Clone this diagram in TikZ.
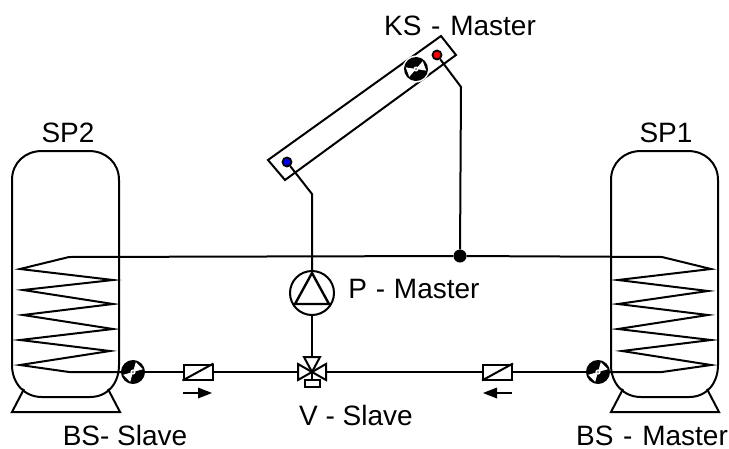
\documentclass[tikz,border=0pt]{standalone}
\usepackage{fontspec}
\setmainfont{Liberation Sans}
\tikzset{
  ln/.style={line width=2pt,black,line join=miter},
  lbl/.style={inner sep=0pt,anchor=base,font=\fontsize{28}{30}\selectfont,text=black,text depth=0pt},
  sensorbase/.style={circle,fill=white,minimum size=27pt,inner sep=0pt},
  dotmark/.style={circle,draw=black,line width=1.8pt,minimum size=9pt,inner sep=0pt},
  checkvalve/.style={draw=black,line width=2pt,fill=white,minimum width=29pt,minimum height=15pt,inner sep=0pt},
}
\newcommand{\fanblades}[2]{%
  \begin{scope}[shift={(#1)},rotate=#2]
    \fill[black] (0,0) circle (12);
    \fill[white] (0,0) -- (-9,-5) -- (-9,5) -- cycle;
    \fill[white] (0,0) -- (9,-5) -- (9,5) -- cycle;
    \fill[white] (0,0) circle (2.6);
    \fill[black] (0,0) circle (0.8);
  \end{scope}}
\begin{document}
\begin{tikzpicture}[x=1pt,y=-1pt]
\useasboundingbox (0,0) rectangle (729,448);
\fill[white] (0,0) rectangle (729,448);
% named points
\coordinate (ps) at (133,372);
\coordinate (pm) at (598,372);
\coordinate (cs) at (416,69);
\coordinate (vc) at (312,372);
% tanks
\foreach \dx in {0,599}{
  \draw[ln,shift={(\dx,0)}] (12,365) -- (12,180) .. controls (12,163) and (25,151) .. (42,151) -- (89,151) .. controls (106,151) and (119,163) .. (119,180) -- (119,365) .. controls (119,383) and (108,397) .. (90,397) -- (42,397) .. controls (24,397) and (12,383) .. (12,365) -- cycle;
  \draw[ln,shift={(\dx,0)}] (24,389) -- (12,412) -- (120,412) -- (108,389);
}
\node[circle,draw=black,line width=2pt,minimum size=44pt,inner sep=0pt] (pump) at (312,293) {};
\node[dotmark,fill=blue!90!black] (blue) at (287,162) {};
\node[dotmark,fill=red] (red) at (437,55) {};
\node[circle,fill=black,minimum size=13pt,inner sep=0pt] (junc) at (460,256) {};
% coils and main line
\draw[ln] (junc) -- (69,257) -- (20,269) -- (113,280) -- (23,290) -- (113,304) -- (23,315) -- (113,329) -- (20,340) -- (110,351) -- (20,365) -- (69,372) -- (ps);
\draw[ln] (junc) -- (662,257) -- (711,269) -- (618,280) -- (708,291) -- (618,304) -- (708,315) -- (618,329) -- (711,340) -- (622,351) -- (711,365) -- (662,372) -- (pm);
% collector
\draw[ln] (268,160) -- (285,180) -- (456,55) -- (441,36) -- cycle;
% circulation
\draw[ln] (ps) -- (vc) -- (pm);
% pipes
\draw[ln] (blue) -- (312,194) -- (pump.north);
\draw[ln] (pump.south) -- (312,357);
\draw[ln] (red) -- (461,87) -- (junc);
% pump triangle
\draw[line width=2.4pt,line join=miter] (312,273) -- (295,304) -- (329,304) -- cycle;
% sensors
\node[sensorbase] (s3) at (cs) {};
\fanblades{ps}{45}
\fanblades{pm}{45}
\fanblades{cs}{20}
% check valves
\node[checkvalve] (cv1) at (198,372) {};
\draw[ln] (cv1.south west) -- (cv1.north east);
\node[checkvalve] (cv2) at (497.5,372) {};
\draw[ln] (cv2.south west) -- (cv2.north east);
% flow arrows
\coordinate (a1s) at (183,393); \coordinate (a1e) at (212,393);
\coordinate (a2s) at (512,393); \coordinate (a2e) at (483,393);
\draw[line width=2pt] (a1s) -- (200,393);
\fill (a1e) -- (198,387.5) -- (198,398.5) -- cycle;
\draw[line width=2pt] (a2s) -- (495,393);
\fill (a2e) -- (497,387.5) -- (497,398.5) -- cycle;
% valve
\draw[ln,fill=white] (298,364) -- (298,380) -- (312,372) -- cycle;
\draw[ln,fill=white] (326,364) -- (326,380) -- (312,372) -- cycle;
\draw[ln,fill=white] (304,357) -- (320,357) -- (312,372) -- cycle;
\draw[ln] (vc) -- (312,379);
\node[draw=black,line width=2pt,fill=white,minimum width=15pt,minimum height=7pt,inner sep=0pt] (act) at (312.5,383) {};
% labels
\node[lbl] (t1) at (460,35) {KS\hspace{2pt} -\hspace{2pt} Master};
\node[lbl] (t2) at (68,142) {SP2};
\node[lbl] (t3) at (666,142) {SP1};
\node[lbl] (t4) at (414,298) {P\hspace{1pt} -\hspace{1pt} Master};
\node[lbl] (t5) at (356,425) {V - Slave};
\node[lbl] (t6) at (125,445) {BS- Slave};
\node[lbl] (t7) at (652,445) {BS\hspace{2pt} -\hspace{2pt} Master};
\end{tikzpicture}
\end{document}
